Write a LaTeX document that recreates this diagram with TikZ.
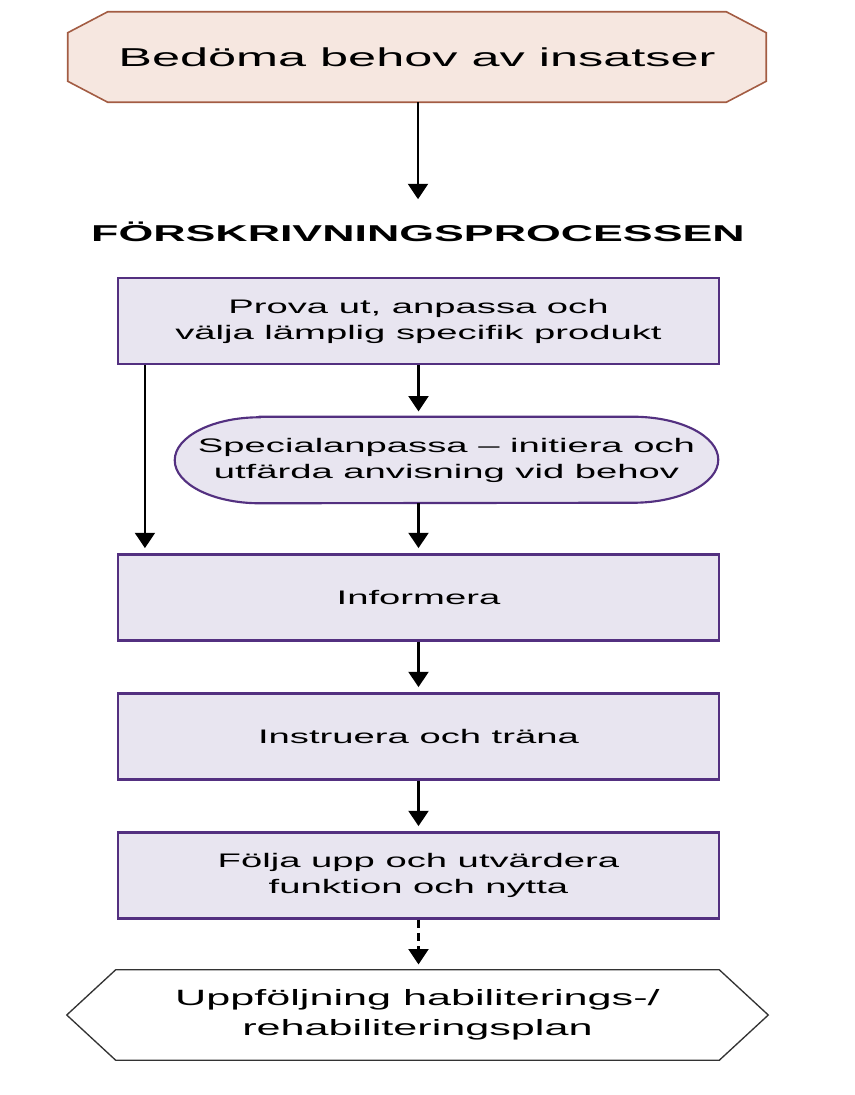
\documentclass[tikz,border=0pt]{standalone}
\usepackage{fontspec}
\setmainfont{Liberation Sans}[FakeStretch=1.95]
\usetikzlibrary{arrows.meta,backgrounds}
\definecolor{peach}{HTML}{F6E7E0}
\definecolor{rust}{HTML}{A35C43}
\definecolor{lav}{HTML}{E8E5F0}
\definecolor{plum}{HTML}{533080}
\begin{document}
\begin{tikzpicture}[x=0.75pt,y=-0.75pt,
    every node/.style={inner sep=0pt, align=center},
    stepbox/.style={draw=plum, fill=lav, line width=1.6pt, minimum width=450.75pt,
      minimum height=64.5pt, font=\fontsize{14.7}{19.5}\selectfont},
    arr/.style={line width=1.6pt, -{Triangle[width=15pt,length=11.5pt]}, shorten >=4pt}]
  \useasboundingbox (0,0) rectangle (854,1095);
  % start and end
  \node[minimum width=523.5pt, minimum height=67.5pt, font=\fontsize{19.4}{24}\selectfont] (assess) at (417,57) {Bedöma behov av insatser};
  \node[font=\bfseries\fontsize{17.2}{20}\selectfont] (title) at (418,232) {FÖRSKRIVNINGSPROCESSEN};
  \node[minimum width=525.75pt, minimum height=67.5pt, font=\fontsize{16.6}{22.5}\selectfont] (plan) at (417.5,1015) {Uppföljning habiliterings-/\\rehabiliteringsplan};
  % the steps
  \node[stepbox] (prova) at (418.5,321) {Prova ut, anpassa och\\välja lämplig specifik produkt};
  \node[minimum width=407.25pt, minimum height=64.5pt, font=\fontsize{14.7}{19.5}\selectfont] (special) at (446.5,460) {Specialanpassa \textendash{} initiera och\\utfärda anvisning vid behov};
  \node[stepbox] (info) at (418.5,597.5) {Informera};
  \node[stepbox] (instr) at (418.5,736.5) {Instruera och träna};
  \node[stepbox] (follow) at (418.5,875.5) {Följa upp och utvärdera\\funktion och nytta};
  \begin{pgfonlayer}{background}
    \draw[draw=rust, fill=peach, line width=1.2pt] ([xshift=30pt]assess.north west) -- ([xshift=-30pt]assess.north east)
      -- ([yshift=-15.75pt]assess.north east) -- ([yshift=15.75pt]assess.south east) -- ([xshift=-30pt]assess.south east)
      -- ([xshift=30pt]assess.south west) -- ([yshift=15.75pt]assess.south west) -- ([yshift=-15.75pt]assess.north west) -- cycle;
    \draw[draw=plum, fill=lav, line width=1.6pt] ([xshift=63.75pt]special.north west) -- ([xshift=-63.75pt]special.north east)
      arc[start angle=90, end angle=-90, x radius=63.75pt, y radius=32.25pt] -- ([xshift=63.75pt]special.south west)
      arc[start angle=270, end angle=90, x radius=63.75pt, y radius=32.25pt] -- cycle;
    \draw[draw=black!80, fill=white, line width=1pt] ([xshift=36.75pt]plan.north west) -- ([xshift=-36.75pt]plan.north east)
      -- (plan.east) -- ([xshift=-36.75pt]plan.south east) -- ([xshift=36.75pt]plan.south west) -- (plan.west) -- cycle;
  \end{pgfonlayer}
  % connectors
  \draw[arr, shorten >=17pt] (title.north |- assess.south) -- (title.north);
  \draw[arr] (prova.south) -- (prova.south |- special.north);
  \draw[arr] ([xshift=21pt]prova.south west) -- ([xshift=21pt]info.north west);
  \draw[arr] (info.north |- special.south) -- (info.north);
  \draw[arr] (info.south) -- (instr.north);
  \draw[arr] (instr.south) -- (follow.north);
  \draw[arr, dash pattern=on 6pt off 4pt] (follow.south) -- (follow.south |- plan.north);
\end{tikzpicture}
\end{document}
